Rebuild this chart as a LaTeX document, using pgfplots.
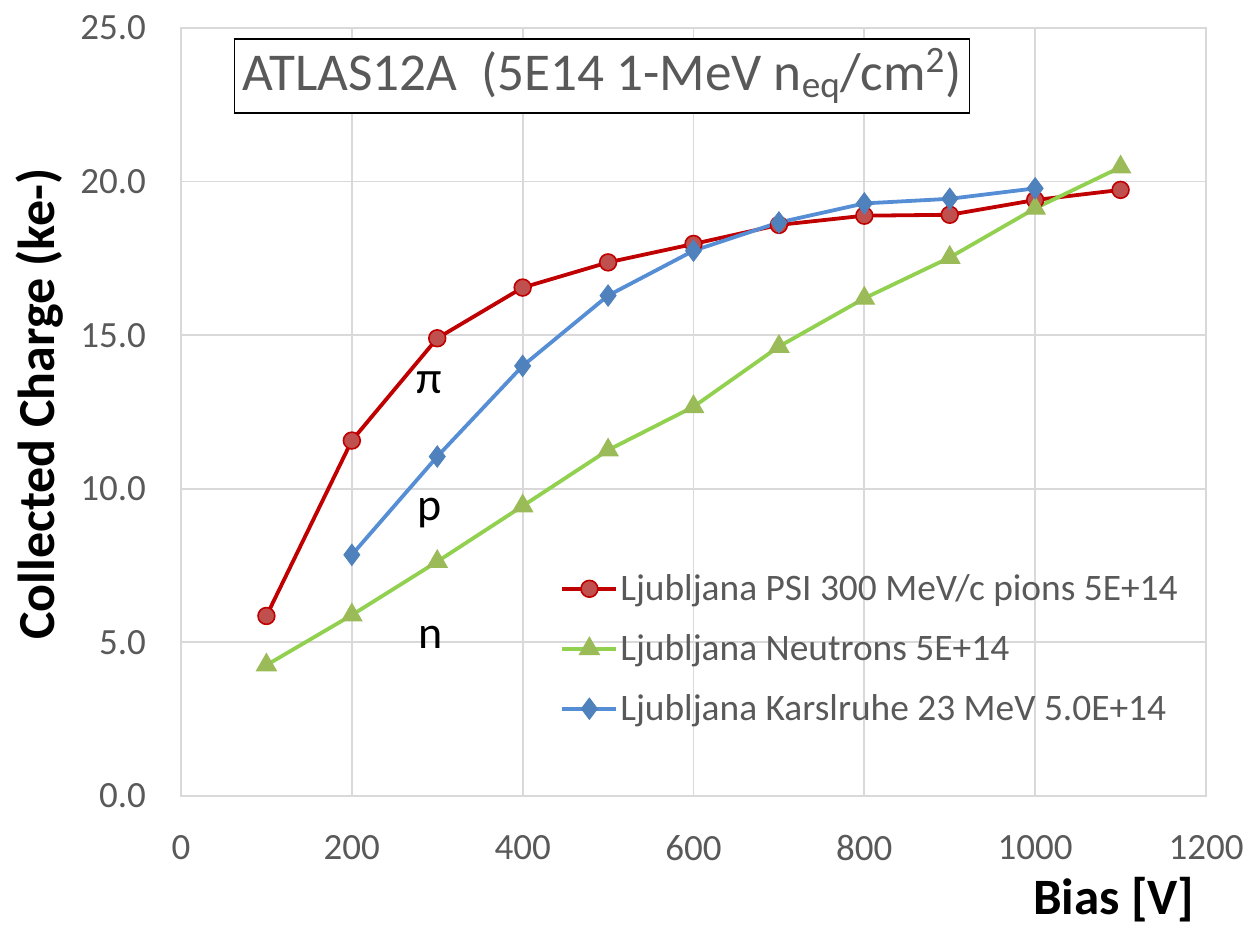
\documentclass[border=0pt]{standalone}
\usepackage{pgfplots}
\pgfplotsset{compat=1.18}
\usepackage{fontspec}
\setmainfont{Carlito}
\definecolor{tickgray}{HTML}{595959}
\definecolor{gridgray}{HTML}{D9D9D9}
\definecolor{redline}{HTML}{C00000}
\definecolor{redfill}{HTML}{C0504D}
\definecolor{greenline}{HTML}{92D050}
\definecolor{greenfill}{HTML}{9BBB59}
\definecolor{blueline}{HTML}{558ED5}
\definecolor{bluefill}{HTML}{4F81BD}
\begin{document}
\begin{tikzpicture}
\useasboundingbox (-90.5pt,-64.5pt) rectangle (536pt,398pt);
\begin{axis}[
  at={(0pt,0pt)}, anchor=south west,
  width=512.5pt, height=384pt, scale only axis,
  xmin=0, xmax=1200, ymin=0, ymax=25,
  xtick={0,200,...,1200}, ytick={0,5,...,25},
  grid=major,
  major grid style={gridgray, line width=0.9pt},
  axis line style={gridgray, line width=0.9pt},
  tick style={draw=none},
  /pgf/number format/assume math mode=true,
  yticklabel style={/pgf/number format/.cd, fixed, fixed zerofill, precision=1, /tikz/.cd, font=\fontsize{18.5}{20}\selectfont, text=tickgray, xshift=-14pt},
  xticklabel style={/pgf/number format/.cd, fixed, 1000 sep={}, /tikz/.cd, font=\fontsize{18.5}{20}\selectfont, text=tickgray, yshift=-16pt},
  xlabel={\textbf{Bias [V]}},
  xlabel style={font=\fontsize{25.5}{28}\selectfont, anchor=center, at={(rel axis cs:0.91,0)}, yshift=-52pt},
  ylabel={\textbf{Collected Charge (ke-)}},
  ylabel style={font=\fontsize{26}{28}\selectfont, anchor=center, at={(rel axis cs:-0.1376,0.51)}},
  legend style={at={(rel axis cs:0.364,0.297)}, anchor=north west, draw=none, fill=none,
    font=\fontsize{18.7}{22}\selectfont, text=tickgray, row sep=13.5pt,
    nodes={inner sep=1pt}},
  legend cell align=left,
  legend image code/.code={\draw[mark repeat=2, mark phase=2, #1] plot coordinates {(0pt,0pt) (13.5pt,0pt) (27pt,0pt)};},
]
\addplot[redline, line width=1.9pt, mark=*, mark size=4.2pt, mark options={fill=redfill, draw=redline, line width=0.8pt}]
coordinates {(100,5.86) (200,11.57) (300,14.90) (400,16.55) (500,17.37) (600,17.97) (700,18.59) (800,18.89) (900,18.92) (1000,19.40) (1100,19.73)};
\addlegendentry{Ljubljana PSI 300 MeV/c pions 5E+14}
\addplot[greenline, line width=1.9pt, mark=triangle*, mark size=5.8pt, mark options={fill=greenfill, draw=greenfill, line width=0.5pt}]
coordinates {(100,4.26) (200,5.89) (300,7.63) (400,9.44) (500,11.26) (600,12.67) (700,14.63) (800,16.20) (900,17.53) (1000,19.13) (1100,20.47)};
\addlegendentry{Ljubljana Neutrons 5E+14}
\addplot[blueline, line width=1.9pt, mark=diamond*, mark size=5.3pt, mark options={fill=bluefill, draw=bluefill, line width=0.5pt}]
coordinates {(200,7.85) (300,11.05) (400,14.00) (500,16.29) (600,17.75) (700,18.67) (800,19.29) (900,19.44) (1000,19.78)};
\addlegendentry{Ljubljana Karslruhe 23 MeV 5.0E+14}
\node[font=\fontsize{23}{25}\selectfont] at (axis cs:291,13.44) {π};
\node[font=\fontsize{23}{25}\selectfont] at (axis cs:291,9.21) {p};
\node[font=\fontsize{23}{25}\selectfont] at (axis cs:292,5.18) {n};
\node[draw=black, line width=0.8pt, fill=white, minimum width=367.5pt, minimum height=37pt, inner sep=0pt, text=tickgray, font=\fontsize{26.6}{28}\selectfont] at (axis cs:492.9,23.44) {ATLAS12A\ \ (5E14 1-MeV n\textsubscript{eq}/cm\textsuperscript{2})};
\end{axis}
\end{tikzpicture}
\end{document}
